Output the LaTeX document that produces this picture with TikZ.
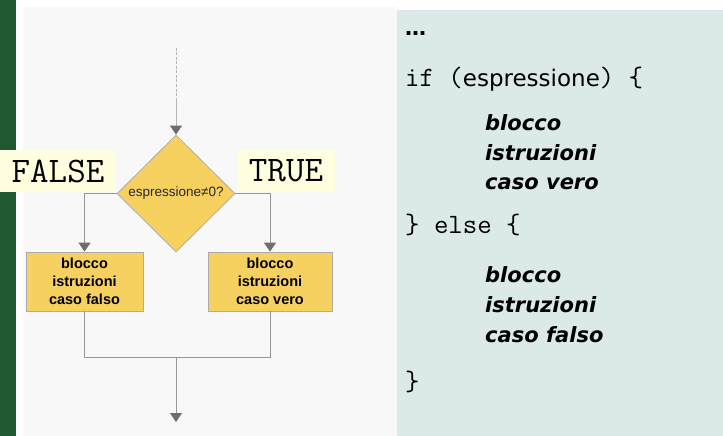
\documentclass[tikz,border=0pt]{standalone}
\usepackage{fontspec}
\setmainfont{Liberation Sans}
\newfontfamily\dejafont{DejaVu Sans}
\usepackage{tikz}
\usetikzlibrary{shapes.geometric}
\usetikzlibrary{arrows.meta}

\definecolor{stripgreen}{RGB}{32,88,50}
\definecolor{panelgray}{RGB}{248,248,248}
\definecolor{panelblue}{RGB}{219,233,232}
\definecolor{boxyellow}{RGB}{247,209,96}
\definecolor{labelyellow}{RGB}{255,255,224}
\definecolor{linegray}{RGB}{150,150,150}
\definecolor{tipgray}{RGB}{110,110,110}

\tikzset{
    flow/.style = {draw=linegray, line width=1pt},
    flowarrow/.style = {flow, arrows = {-Triangle[width=12pt, length=9pt, color=tipgray]}},
    blockbox/.style = {draw=linegray!80, fill=boxyellow, line width=0.8pt, align=center,
        minimum height=59pt, inner sep=0pt, font=\fontsize{14.5}{18}\selectfont\bfseries},
    truthlabel/.style = {fill=labelyellow, minimum height=42pt, inner sep=0pt,
        font=\ttfamily\fontsize{36}{40}\selectfont},
    codeline/.style = {anchor=base west, inner sep=0pt, font=\ttfamily\fontsize{28}{32}\selectfont},
    blockline/.style = {anchor=base west, inner sep=0pt, font=\dejafont\fontsize{21}{29}\selectfont\bfseries\itshape},
    dotsline/.style = {anchor=base west, inner sep=0pt, font=\dejafont\fontsize{21}{29}\selectfont\bfseries},
}

\begin{document}
\begin{tikzpicture}[x=1pt, y=-1pt]
    \useasboundingbox (0, 0) rectangle (723, 436);
    % panels
    \fill[white] (0, 0) rectangle (723, 436);
    \fill[stripgreen] (0, 0) rectangle (16, 436);
    \fill[panelgray] (23, 7) rectangle (397, 436);
    \fill[panelblue] (397, 10) rectangle (723, 436);

    % flow chart
    \node[diamond, aspect=1, draw=linegray!80, fill=boxyellow, line width=0.8pt,
        minimum width=118pt, minimum height=117pt, inner sep=0pt,
        font=\fontsize{13.5}{15}\selectfont, text=black!85] (cond) at (176, 193.5) {espressione≠0?};
    \node[blockbox, minimum width=117pt] (falsebox) at (84.5, 281.5) {blocco\\istruzioni\\caso falso};
    \node[blockbox, minimum width=124pt] (truebox) at (270, 281.5) {blocco\\istruzioni\\caso vero};
    \node[truthlabel, minimum width=116pt] (falselab) at (58, 171) {FALSE};
    \node[truthlabel, minimum width=98pt] (truelab) at (286, 171) {TRUE};

    \coordinate (start) at (176, 48);
    \coordinate (fade) at (176, 98);
    \coordinate (join) at (176, 357);
    \coordinate (stop) at (176, 422);
    \draw[draw=linegray!70, line width=1pt, dash pattern=on 3pt off 1.5pt] (start) -- (fade);
    \draw[flowarrow, draw=linegray!70] (fade) -- (cond.north);
    \draw[flowarrow] (cond.west) -| (falsebox.north);
    \draw[flowarrow] (cond.east) -| (truebox.north);
    \draw[flow] (falsebox.south) |- (join);
    \draw[flow] (truebox.south) |- (join);
    \draw[flowarrow] (join) -- (stop);

    % code
    \node[dotsline] (dotsA) at (405, 36) {…};
    \node[codeline] (ifline) at (405, 87) {if ({\dejafont\fontsize{23}{29}\selectfont espressione}) \{};
    \node[blockline] (veroA) at (485, 130) {blocco};
    \node[blockline] (veroB) at (485, 160) {istruzioni};
    \node[blockline] (veroC) at (485, 189) {caso vero};
    \node[codeline] (elseline) at (405, 233) {\} else \{};
    \node[blockline] (falsoA) at (485, 282) {blocco};
    \node[blockline] (falsoB) at (485, 312) {istruzioni};
    \node[blockline] (falsoC) at (485, 342) {caso falso};
    \node[codeline] (closeline) at (405, 390) {\}};
    \node[dotsline] (dotsB) at (405, 440) {…};
\end{tikzpicture}
\end{document}
